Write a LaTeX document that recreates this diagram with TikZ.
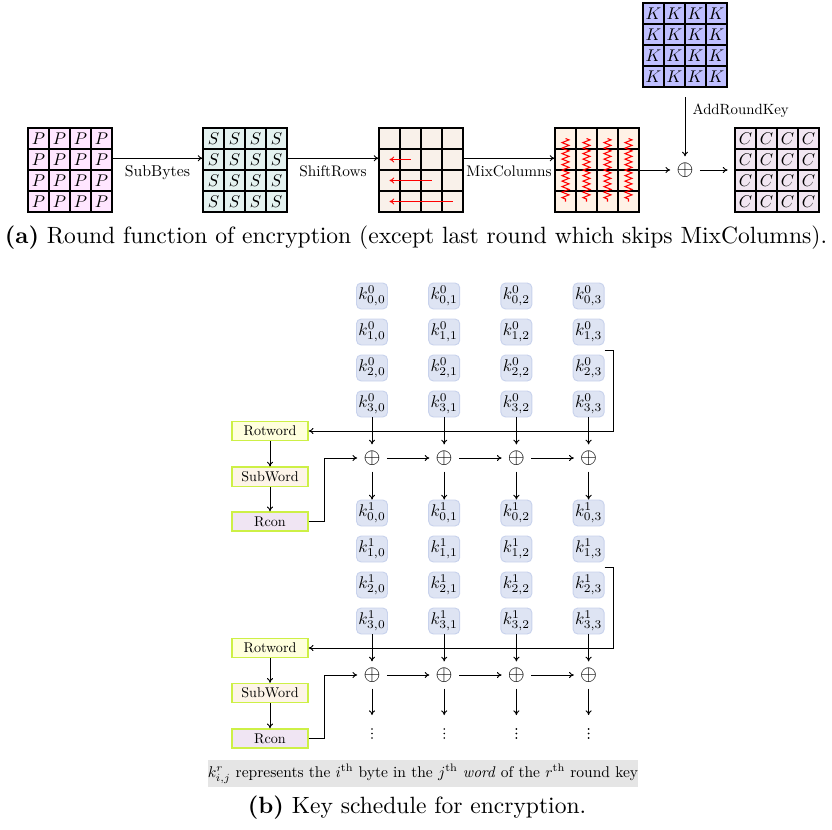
\documentclass[tikz,border=0pt]{standalone}
\usepackage{graphicx}
\usetikzlibrary{decorations.pathmorphing,arrows.meta}
\newdimen\pxu
\pxu=0.425pt
\definecolor{pfill}{RGB}{255,230,255}
\definecolor{sfill}{RGB}{228,242,240}
\definecolor{srfill}{RGB}{249,241,234}
\definecolor{mcfill}{RGB}{255,242,230}
\definecolor{kgfill}{RGB}{191,191,255}
\definecolor{cfill}{RGB}{241,230,241}
\definecolor{kfill}{RGB}{222,228,243}
\definecolor{kborder}{RGB}{200,210,236}
\definecolor{limeb}{RGB}{205,240,70}
\definecolor{rotfill}{RGB}{255,255,221}
\definecolor{subfill}{RGB}{253,244,232}
\definecolor{rconfill}{RGB}{240,229,243}
\newcommand\shr[2]{\scalebox{#1}{#2}}
\newcommand\aesgrid[5]{%
  \node[gridbox] (#1) at (#2,#3) {};
  \foreach \r in {0,...,3}{\foreach \c in {0,...,3}{%
    \node[cell,fill=#4] (#1-\r-\c) at ({#2-31.5+21*\c},{#3-31.5+21*\r}) {\shr{0.72}{#5}};}}}
\begin{document}
\begin{tikzpicture}[x=0.425pt,y=-0.425pt,
  cell/.style={draw=black, line width=0.65pt, minimum size=21*\pxu, inner sep=0pt},
  gridbox/.style={minimum size=84*\pxu, inner sep=0pt},
  lab/.style={inner sep=3pt},
  kn/.style={draw=kborder, fill=kfill, rounded corners=2pt, minimum width=31*\pxu, minimum height=26*\pxu, inner sep=0pt},
  opl/.style={inner sep=2.5pt, font=\fontsize{9}{10}\selectfont},
  fbox/.style={draw=limeb, line width=0.6pt, minimum width=76*\pxu, minimum height=19*\pxu, inner sep=0pt},
  dts/.style={inner sep=0pt, outer sep=5.5pt, minimum width=2pt, minimum height=11*\pxu},
  arr/.style={-{To[length=2pt,width=2.6pt]}, line width=0.4pt},
  zz/.style={red, line width=0.45pt, decorate, decoration={zigzag, segment length=5.5*\pxu, amplitude=3.5*\pxu}},
  legend/.style={fill=gray!20, minimum width=418*\pxu, minimum height=27*\pxu, inner sep=0pt}
]
\useasboundingbox (0,0) rectangle (832,829);
% ---------- (a) round function ----------
\aesgrid{P}{70}{170}{pfill}{$P$}
\aesgrid{S}{245}{170}{sfill}{$S$}
\aesgrid{SR}{421}{170}{srfill}{}
\aesgrid{MC}{597}{170}{mcfill}{}
\aesgrid{K}{685}{45}{kgfill}{$K$}
\aesgrid{C}{777}{170}{cfill}{$C$}
\node[opl] (X) at (685,170) {$\oplus$};
\draw[arr] ([yshift=5pt]P.east) -- ([yshift=5pt]S.west) node[midway,below,lab] {\shr{0.67}{SubBytes}};
\draw[arr] ([yshift=5pt]S.east) -- ([yshift=5pt]SR.west) node[midway,below,lab] {\shr{0.65}{ShiftRows}};
\draw[arr] ([yshift=5pt]SR.east) -- ([yshift=5pt]MC.west) node[midway,below,lab] {\shr{0.65}{MixColumns}};
\draw[arr] (MC.east) -- (X.west);
\draw[arr] (X.east) -- ([xshift=-7*\pxu]C.west);
\draw[arr] ([yshift=-10*\pxu]K.south) -- (X.north) node[pos=0.22,right,lab] {\shr{0.63}{AddRoundKey}};
\draw[red,arr] (SR-1-1.center) -- (SR-1-0.center);
\draw[red,arr] (SR-2-2.center) -- (SR-2-0.center);
\draw[red,arr] (SR-3-3.center) -- (SR-3-0.center);
\foreach \c in {0,...,3} \draw[zz] (MC-0-\c.center) -- (MC-3-\c.center);
\node (capa) at (416,238) {\textbf{(a)} Round function of encryption (except last round which skips MixColumns).};
% ---------- (b) key schedule ----------
\foreach \i in {0,...,3}{\foreach \j in {0,...,3}{%
  \node[kn] (k0-\i-\j) at ({372+72.2*\j},{296+36*\i}) {\shr{0.72}{$k^0_{\i,\j}$}};
  \node[kn] (k1-\i-\j) at ({372+72.2*\j},{513+36*\i}) {\shr{0.72}{$k^1_{\i,\j}$}};}}
\foreach \j in {0,...,3}{%
  \node[opl] (x0-\j) at ({372+72.2*\j},458) {$\oplus$};
  \node[opl] (x1-\j) at ({372+72.2*\j},675) {$\oplus$};
  \node[dts] (d-\j) at ({372+72.2*\j},733.5) {};
  \foreach \dy in {-4.5,0,4.5} \fill ([yshift=\dy*\pxu]d-\j.center) circle (0.4pt);
  \draw[arr] (k0-3-\j) -- (x0-\j);
  \draw[arr] (x0-\j) -- (k1-0-\j);
  \draw[arr] (k1-3-\j) -- (x1-\j);
  \draw[arr] (x1-\j) -- (d-\j);}
\foreach \j/\n in {0/1,1/2,2/3}{%
  \draw[arr] (x0-\j) -- (x0-\n);
  \draw[arr] (x1-\j) -- (x1-\n);}
\node[fbox,fill=rotfill] (rot0) at (270,431) {\shr{0.6}{Rotword}};
\node[fbox,fill=subfill] (sub0) at (270,476.7) {\shr{0.6}{SubWord}};
\node[fbox,fill=rconfill] (rcon0) at (270,521.5) {\shr{0.6}{Rcon}};
\node[fbox,fill=rotfill] (rot1) at (270,648) {\shr{0.6}{Rotword}};
\node[fbox,fill=subfill] (sub1) at (270,693) {\shr{0.6}{SubWord}};
\node[fbox,fill=rconfill] (rcon1) at (270,738.5) {\shr{0.6}{Rcon}};
\foreach \n in {0,1}{%
  \draw[arr] (rot\n) -- (sub\n);
  \draw[arr] (sub\n) -- (rcon\n);
  \coordinate (w\n) at ([yshift=-5*\pxu]k\n-1-3.south east);
  \draw[arr] (w\n) -- ++(9,0) |- (rot\n.east);
  \draw[arr] (rcon\n.east) -- ++(16,0) |- (x\n-0.west);}
\node[legend] (leg) at (423,773.5) {\shr{0.66}{$k^r_{i,j}$ represents the $i^{\mathrm{th}}$ byte in the $j^{\mathrm{th}}$ \emph{word} of the $r^{\mathrm{th}}$ round key}};
\node (capb) at (417,808) {\textbf{(b)} Key schedule for encryption.};
\end{tikzpicture}
\end{document}
